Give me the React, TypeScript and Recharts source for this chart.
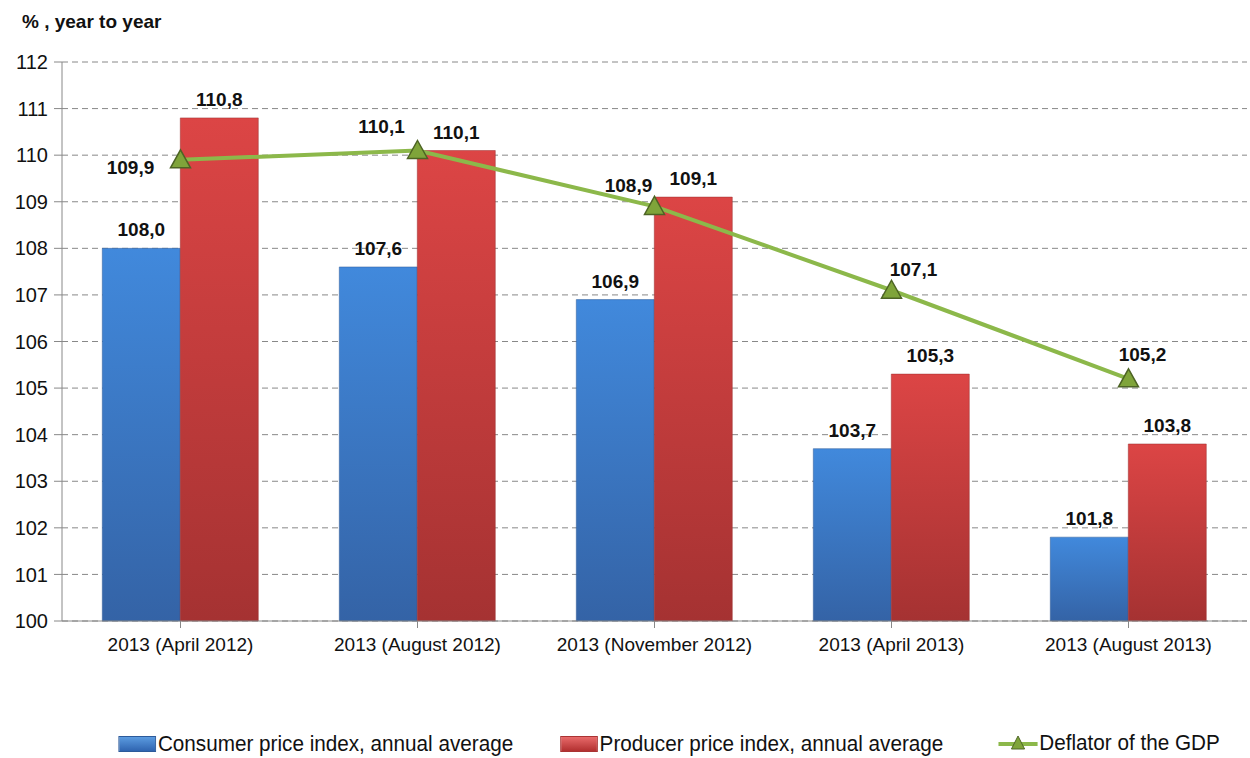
import React from "react";
import {
  ComposedChart,
  Bar,
  Line,
  XAxis,
  YAxis,
  CartesianGrid,
  Legend,
  LabelList,
} from "recharts";

const categories = [
  "2013 (April 2012)",
  "2013 (August 2012)",
  "2013 (November 2012)",
  "2013 (April 2013)",
  "2013 (August 2013)",
];
const consumer = [108.0, 107.6, 106.9, 103.7, 101.8];
const producer = [110.8, 110.1, 109.1, 105.3, 103.8];
const deflator = [109.9, 110.1, 108.9, 107.1, 105.2];
const yTicks = [100, 101, 102, 103, 104, 105, 106, 107, 108, 109, 110, 111, 112];

const data = categories.map((name, i) => ({
  name,
  consumer: consumer[i],
  producer: producer[i],
  deflator: deflator[i],
}));

const fmt = (v: number) => v.toFixed(1).replace(".", ",");
const font = "'Liberation Sans', Arial, sans-serif";

// offsets of the deflator labels relative to their marker
const lineLabelOffsets = [
  [-50, 14],
  [-36, -18],
  [-26, -14],
  [22, -14],
  [14, -18],
];

const BarLabel = (props: any) => {
  const { x, y, width, value } = props;
  return (
    <text x={x + width / 2} y={y - 12} textAnchor="middle" fontFamily={font} fontWeight="bold" fontSize={19} fill="#111">
      {fmt(value)}
    </text>
  );
};

const LineLabel = (props: any) => {
  const { x, y, value, index } = props;
  const [dx, dy] = lineLabelOffsets[index];
  return (
    <text x={x + dx} y={y + dy} textAnchor="middle" fontFamily={font} fontWeight="bold" fontSize={19} fill="#111">
      {fmt(value)}
    </text>
  );
};

const Triangle = (props: any) => {
  const { cx, cy } = props;
  if (cx == null || cy == null) return null;
  return (
    <path
      d={`M${cx},${cy - 10} L${cx + 10},${cy + 8} L${cx - 10},${cy + 8} Z`}
      fill="#7fa43a"
      stroke="#4d6424"
      strokeWidth={1.5}
    />
  );
};

const LegendContent = () => {
  const item = (icon: React.ReactNode, label: string, gap: number) => (
    <span style={{ display: "inline-flex", alignItems: "center", marginRight: gap }}>
      {icon}
      <span>{label}</span>
    </span>
  );
  return (
    <div
      style={{
        fontFamily: font,
        fontSize: 22,
        color: "#111",
        paddingLeft: 126,
        paddingTop: 4,
        whiteSpace: "nowrap",
        transform: "scaleX(0.94)",
        transformOrigin: "left center",
      }}
    >
      {item(
        <span style={{ display: "inline-block", width: 38, height: 14, background: "linear-gradient(#5b9be0, #2f64b0)", border: "1px solid #2c5a9a", marginRight: 2 }} />,
        "Consumer price index, annual average",
        50
      )}
      {item(
        <span style={{ display: "inline-block", width: 38, height: 14, background: "linear-gradient(#e86a6a, #b23030)", border: "1px solid #a33", marginRight: 2 }} />,
        "Producer price index, annual average",
        58
      )}
      {item(
        <svg width={42} height={18} style={{ marginRight: 2 }}>
          <line x1={0} y1={10} x2={42} y2={10} stroke="#8cb84a" strokeWidth={4} />
          <path d="M21,2 L28,15 L14,15 Z" fill="#7fa43a" stroke="#4d6424" strokeWidth={1} />
        </svg>,
        "Deflator of the GDP",
        0
      )}
    </div>
  );
};

export default function App() {
  return (
    <div style={{ position: "absolute", left: 0, top: 0, width: 1250, height: 758, background: "#fff" }}>
      <div
        style={{
          position: "absolute",
          left: 22,
          top: 11,
          fontFamily: font,
          fontWeight: "bold",
          fontSize: 19,
          color: "#111",
        }}
      >
        % , year to year
      </div>
      <ComposedChart
        width={1250}
        height={758}
        data={data}
        margin={{ top: 62, right: 3, left: 0, bottom: 0 }}
        barGap={0}
        barCategoryGap="17%"
      >
        <defs>
          <linearGradient id="blueGrad" x1="0" y1="0" x2="0" y2="1">
            <stop offset="0%" stopColor="#4189dc" />
            <stop offset="100%" stopColor="#3463a6" />
          </linearGradient>
          <linearGradient id="redGrad" x1="0" y1="0" x2="0" y2="1">
            <stop offset="0%" stopColor="#dc4545" />
            <stop offset="100%" stopColor="#a53232" />
          </linearGradient>
        </defs>
        <CartesianGrid vertical={false} stroke="#888" strokeDasharray="6 4" />
        <XAxis
          dataKey="name"
          height={105}
          tickLine={{ stroke: "#888" }}
          axisLine={{ stroke: "#888" }}
          tickSize={7}
          tickMargin={10}
          interval={0}
          tick={{ fontFamily: font, fontSize: 19, fill: "#111" }}
        />
        <YAxis
          width={62}
          domain={[100, 112]}
          ticks={yTicks}
          interval={0}
          axisLine={{ stroke: "#888" }}
          tickLine={{ stroke: "#888" }}
          tickSize={8}
          tickMargin={6}
          tick={{ fontFamily: font, fontSize: 20, fill: "#111" }}
        />
        <Legend verticalAlign="bottom" height={32} content={<LegendContent />} />
        <Bar dataKey="consumer" name="Consumer price index, annual average" fill="url(#blueGrad)" stroke="#2f5a96" strokeWidth={0.5} isAnimationActive={false}>
          <LabelList dataKey="consumer" content={<BarLabel />} />
        </Bar>
        <Bar dataKey="producer" name="Producer price index, annual average" fill="url(#redGrad)" stroke="#9a2e2e" strokeWidth={0.5} isAnimationActive={false}>
          <LabelList dataKey="producer" content={<BarLabel />} />
        </Bar>
        <Line
          dataKey="deflator"
          name="Deflator of the GDP"
          type="linear"
          stroke="#8cb84a"
          strokeWidth={4}
          dot={<Triangle />}
          activeDot={false}
          isAnimationActive={false}
        >
          <LabelList dataKey="deflator" content={<LineLabel />} />
        </Line>
      </ComposedChart>
    </div>
  );
}
